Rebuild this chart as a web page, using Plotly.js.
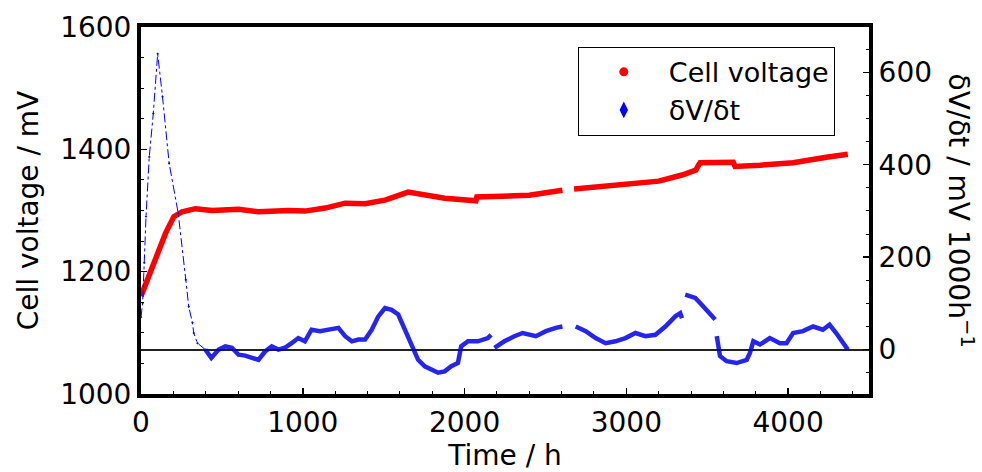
<!DOCTYPE html>
<html>
<head>
<meta charset="utf-8">
<script src="https://cdn.plot.ly/plotly-3.0.1.min.js"></script>
<style>
html,body{margin:0;padding:0;background:#fff;}
#chart{width:982px;height:472px;}
</style>
</head>
<body>
<div id="chart"></div>
<script>
// Cell voltage (mV) vs time (h)
var timeV = [0, 70, 152, 203, 254, 336, 439, 603, 726, 911, 1013, 1138, 1262, 1385, 1508, 1651, 1754, 1877, 2070, 2076, 2308, 2400, 2605, 2640, 2677, 2892, 2995, 3200, 3344, 3430, 3448, 3456, 3661, 3672, 3826, 4031, 4236, 4369];
var voltage = [1160, 1209, 1263, 1290, 1298, 1303, 1300, 1302, 1298, 1300, 1299, 1304, 1312, 1311, 1317, 1330, 1325, 1320, 1316, 1322, 1324, 1325, 1333, null, 1335, 1341, 1342, 1348, 1358, 1366, 1375, 1378, 1379, 1372, 1374, 1378, 1387, 1392];

// dV/dt (mV per 1000 h) - start-up transient
var dvStartT = [0, 10, 20, 31, 51, 76, 103, 133, 174, 230, 277, 295, 318, 326, 349, 398];
var dvStart = [70, 101, 188, 288, 417, 511, 640, 547, 403, 295, 151, 93, 58, 36, 14, 0];

// dV/dt (mV per 1000 h) - steady operation
var dvT = [398, 435, 480, 521, 562, 603, 644, 685, 726, 767, 808, 849, 890, 931, 972, 1013, 1054, 1106, 1157, 1220, 1262, 1303, 1344, 1385, 1426, 1467, 1508, 1549, 1590, 1631, 1672, 1713, 1754, 1795, 1836, 1877, 1918, 1959, 1979, 2021, 2082, 2144, 2164, 2175, 2185, 2246, 2308, 2359, 2441, 2503, 2564, 2605, 2645, 2687, 2749, 2810, 2872, 2933, 2995, 3056, 3118, 3180, 3241, 3303, 3333, 3344, 3354, 3364, 3426, 3456, 3497, 3538, 3549, 3554, 3559, 3579, 3620, 3682, 3744, 3764, 3785, 3826, 3887, 3949, 3990, 4031, 4092, 4154, 4215, 4256, 4297, 4338, 4369];
var dv = [0, -18, 0, 7, 4, -11, -13, -18, -22, -4, 7, 0, 4, 14, 25, 18, 43, 40, 43, 47, 29, 18, 22, 22, 43, 72, 90, 86, 76, 43, 7, -22, -36, -43, -50, -47, -36, -29, 7, 18, 18, 25, 32, null, 4, 18, 29, 36, 29, 40, 47, 50, null, 50, 40, 25, 14, 18, 25, 36, 29, 32, 50, 72, 79, 68, null, 119, 112, 101, 86, 72, 65, null, 29, -14, -25, -29, -22, -7, 18, 11, 25, 14, 14, 36, 40, 50, 43, 54, 36, 14, 0];

var seriesNames = ['Cell voltage', 'δV/δt'];
var xTicks = [0, 1000, 2000, 3000, 4000];
var yTicks = [1000, 1200, 1400, 1600];
var y2Ticks = [0, 200, 400, 600];

var FONT = 'DejaVu Sans, sans-serif';

var traces = [
  {x: timeV, y: voltage, type: 'scatter', mode: 'lines', yaxis: 'y',
   line: {color: '#ff0000', width: 5.5}, connectgaps: false, showlegend: false, hoverinfo: 'skip'},
  {x: dvStartT, y: dvStart, type: 'scatter', mode: 'lines+markers', yaxis: 'y2',
   line: {color: '#0000ff', width: 1, dash: 'dashdot'},
   marker: {color: '#0000ff', size: 2, symbol: 'diamond'}, showlegend: false, hoverinfo: 'skip'},
  {x: dvT, y: dv, type: 'scatter', mode: 'lines', yaxis: 'y2',
   line: {color: 'rgba(0,0,230,0.85)', width: 4.5}, connectgaps: false, showlegend: false, hoverinfo: 'skip'},
  {x: [null], y: [null], type: 'scatter', mode: 'markers', name: seriesNames[0],
   marker: {color: '#ff0000', size: 9, symbol: 'circle'}},
  {x: [null], y: [null], type: 'scatter', mode: 'markers', name: seriesNames[1], yaxis: 'y2',
   marker: {color: '#0000ff', size: 12, symbol: 'diamond-tall'}}
];

var layout = {
  width: 982, height: 472,
  margin: {l: 141, r: 113, t: 27, b: 78},
  paper_bgcolor: '#ffffff', plot_bgcolor: '#ffffff',
  font: {family: FONT, size: 28, color: '#000'},
  showlegend: true,
  legend: {x: 0.6, y: 0.946, xanchor: 'left', yanchor: 'top', bgcolor: '#fff',
           bordercolor: '#000', borderwidth: 1, font: {family: FONT, size: 27, color: '#000'},
           itemwidth: 80, itemsizing: 'trace'},
  xaxis: {range: [0, 4500], tickvals: xTicks, ticktext: xTicks.map(String),
          showgrid: false, zeroline: false, showline: true, linecolor: '#000', linewidth: 4, mirror: true,
          ticks: 'inside', ticklen: 6, tickwidth: 1.5, tickcolor: '#000',
          minor: {dtick: 200, ticks: 'inside', ticklen: 3, tickwidth: 1, tickcolor: '#000'},
          tickfont: {family: FONT, size: 28},
          title: {text: 'Time / h', font: {family: FONT, size: 28}, standoff: 6}},
  yaxis: {range: [1000, 1600], tickvals: yTicks, ticktext: yTicks.map(String),
          showgrid: false, zeroline: false, showline: true, linecolor: '#000', linewidth: 4, mirror: true,
          ticks: 'inside', ticklen: 6, tickwidth: 1.5, tickcolor: '#000',
          minor: {dtick: 50, ticks: 'inside', ticklen: 3, tickwidth: 1, tickcolor: '#000'},
          tickfont: {family: FONT, size: 28},
          title: {text: 'Cell voltage / mV', font: {family: FONT, size: 28}, standoff: 14}},
  yaxis2: {range: [-96, 698], overlaying: 'y', side: 'right', tickvals: y2Ticks, ticktext: y2Ticks.map(String),
          showgrid: false, zeroline: true, zerolinecolor: '#222', zerolinewidth: 2,
          showline: true, linecolor: '#000', linewidth: 4,
          ticks: 'inside', ticklen: 6, tickwidth: 1.5, tickcolor: '#000',
          minor: {dtick: 50, ticks: 'inside', ticklen: 3, tickwidth: 1, tickcolor: '#000'},
          tickfont: {family: FONT, size: 28}},
  annotations: [
    {text: 'δV/δt / mV 1000h<sup>−1</sup>', xref: 'paper', yref: 'paper', x: 1.125, y: 0.5,
     xanchor: 'center', yanchor: 'middle', textangle: 90, showarrow: false,
     font: {family: FONT, size: 28, color: '#000'}}
  ]
};

Plotly.newPlot('chart', traces, layout, {displayModeBar: false, staticPlot: true});
</script>
</body>
</html>
